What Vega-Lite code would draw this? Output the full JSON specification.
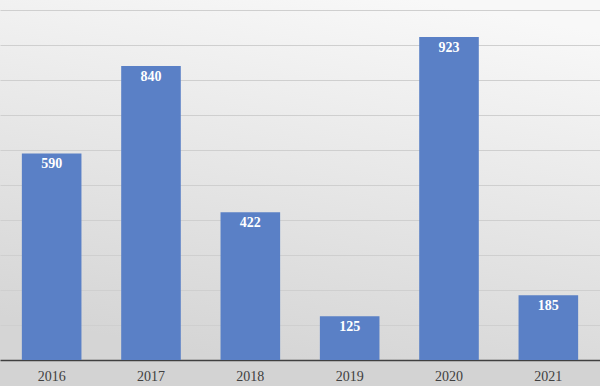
{
  "$schema": "https://vega.github.io/schema/vega-lite/v6.json",
  "width": 600,
  "height": 360,
  "padding": {"left": 0, "right": 0, "top": 0, "bottom": 26},
  "autosize": {"type": "none"},
  "background": "#d3d3d3",
  "config": {
    "view": {
      "stroke": null,
      "fill": {
        "gradient": "linear",
        "x1": 0.7, "y1": 0, "x2": 0.4, "y2": 1,
        "stops": [
          {"offset": 0, "color": "#f8f8f8"},
          {"offset": 1, "color": "#d5d5d5"}
        ]
      }
    },
    "font": "Liberation Serif, Times New Roman, serif"
  },
  "data": {
    "values": [
      {"year": "2016", "value": 590},
      {"year": "2017", "value": 840},
      {"year": "2018", "value": 422},
      {"year": "2019", "value": 125},
      {"year": "2020", "value": 923},
      {"year": "2021", "value": 185}
    ]
  },
  "encoding": {
    "x": {
      "field": "year", "type": "nominal",
      "scale": {"paddingInner": 0.4, "paddingOuter": 0.22},
      "axis": {
        "title": null, "labelAngle": 0, "ticks": false,
        "domainColor": "#404040", "domainWidth": 1.5,
        "labelFont": "Liberation Serif, Times New Roman, serif", "labelFontSize": 14,
        "labelColor": "#404040", "labelPadding": 9, "grid": false
      }
    },
    "y": {
      "field": "value", "type": "quantitative",
      "scale": {"domain": [0, 1028.57], "nice": false, "zero": true},
      "axis": {
        "title": null, "labels": false, "ticks": false, "domain": false,
        "values": [100, 200, 300, 400, 500, 600, 700, 800, 900, 1000],
        "grid": true, "gridColor": "#cfcfcf", "gridWidth": 1
      }
    }
  },
  "layer": [
    {"mark": {"type": "bar", "color": "#5a80c6"}},
    {
      "mark": {
        "type": "text", "baseline": "top", "dy": 4,
        "color": "white", "fontWeight": "bold", "fontSize": 14,
        "font": "Liberation Serif, Times New Roman, serif"
      },
      "encoding": {"text": {"field": "value", "type": "quantitative"}}
    }
  ]
}
